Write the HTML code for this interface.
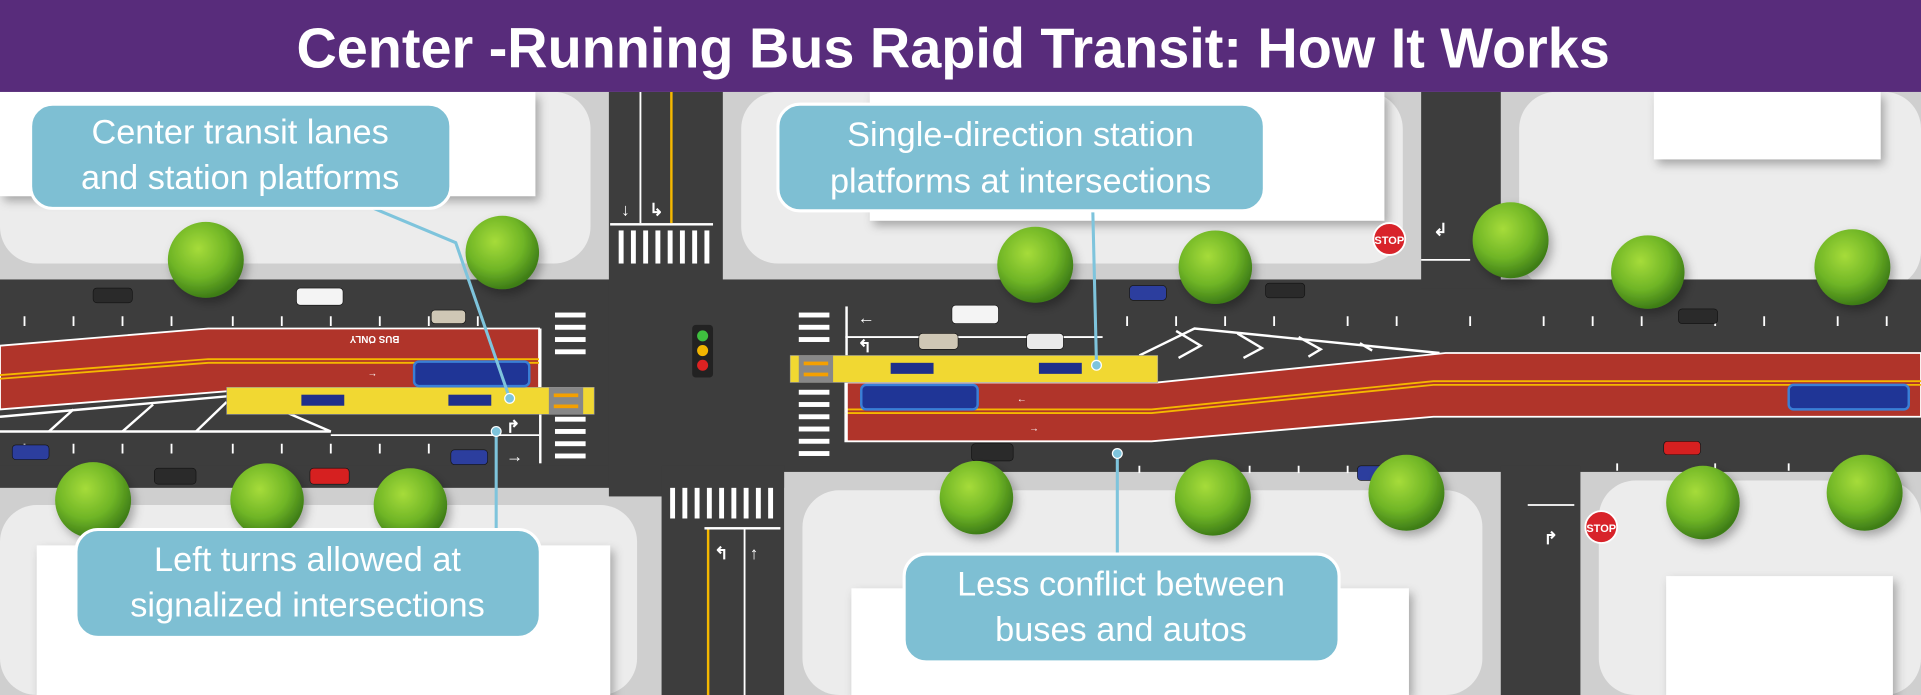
<!DOCTYPE html>
<html><head><meta charset="utf-8"><style>
html,body{margin:0;padding:0;background:#ddd;}
svg{display:block;}
text{font-family:"Liberation Sans",sans-serif;}
</style></head><body>
<svg width="1921" height="695" viewBox="0 0 1568 567" preserveAspectRatio="none" xmlns="http://www.w3.org/2000/svg">
<defs>
<filter id="sh" x="-20%" y="-20%" width="140%" height="140%"><feDropShadow dx="3" dy="4" stdDeviation="4" flood-color="#000" flood-opacity="0.3"/></filter>
<radialGradient id="tg" cx="40%" cy="35%" r="65%"><stop offset="0" stop-color="#a6dc3a"/><stop offset="0.6" stop-color="#6fb526"/><stop offset="1" stop-color="#3e7d17"/></radialGradient>
</defs>
<rect width="1568" height="567" fill="#cfcfcf"/>
<g fill="#ececec">
<rect x="0" y="75" width="482" height="140" rx="30"/>
<rect x="605" y="75" width="540" height="140" rx="30"/>
<rect x="1240" y="75" width="328" height="160" rx="30"/>
<rect x="0" y="412" width="520" height="155" rx="30"/>
<rect x="655" y="400" width="555" height="167" rx="30"/>
<rect x="1305" y="392" width="263" height="175" rx="30"/>
</g>
<g fill="#fff" filter="url(#sh)">
<rect x="0" y="75" width="437" height="85"/>
<rect x="710" y="75" width="420" height="105"/>
<rect x="1350" y="75" width="185" height="55"/>
<rect x="30" y="445" width="468" height="122"/>
<rect x="695" y="480" width="455" height="87"/>
<rect x="1360" y="470" width="185" height="97"/>
</g>
<g fill="#3d3d3d">
<rect x="0" y="228" width="1568" height="157"/>
<rect x="0" y="380" width="640" height="18"/>
<rect x="497" y="75" width="93" height="330"/>
<rect x="540" y="380" width="100" height="187"/>
<rect x="1160" y="75" width="65" height="160"/>
<rect x="1225" y="380" width="65" height="187"/>
</g>
<g stroke="#fff" stroke-width="1.5">
<path d="M20 258v8M60 258v8M100 258v8M140 258v8M190 258v8M230 258v8M270 258v8M310 258v8M350 258v8M390 258v8"/>
<path d="M20 362v8M60 362v8M100 362v8M140 362v8M190 362v8M230 362v8M270 362v8M310 362v8M350 362v8"/>
<path d="M920 258v8M960 258v8M1000 258v8M1040 258v8M1100 258v8M1140 258v8M1200 258v8M1260 258v8M1300 258v8M1340 258v8M1400 258v8M1440 258v8M1500 258v8M1540 258v8"/>
<path d="M930 380v6M980 380v6M1020 380v6M1060 380v6M1100 380v6M1160 380v6M1320 378v6M1400 378v6M1460 378v6M1520 378v6"/>
<path d="M270 355H440M690 275H900M1160 212H1200M1247 412H1285"/>
</g>
<g stroke="#fff" stroke-width="2" fill="none">
<path d="M0 340L200 322L270 352H0"/>
<path d="M40 352l20-18M100 352l25-22M160 352l25-24"/>
<path d="M930 290L975 268L1175 288"/>
<path d="M960 270l20 12-18 10M1010 272l20 12-15 8M1060 275l18 10-10 6M1110 280l10 6"/>
</g>
<polygon points="0,282 170,268 440,268 440,318 200,318 0,334" fill="#b0342a" stroke="#fff" stroke-width="1.5"/>
<polyline points="0,306 170,293 440,293" stroke="#f5b800" stroke-width="1.5" fill="none"/>
<polyline points="0,309 170,296 440,296" stroke="#f5b800" stroke-width="1.5" fill="none"/>
<polygon points="690,312 945,312 1180,288 1568,288 1568,340 1170,340 940,360 690,360" fill="#b0342a" stroke="#fff" stroke-width="1.5"/>
<polyline points="690,334 940,334 1170,311 1568,311" stroke="#f5b800" stroke-width="1.5" fill="none"/>
<polyline points="690,337 940,337 1170,314 1568,314" stroke="#f5b800" stroke-width="1.5" fill="none"/>
<g fill="#fff" font-size="8" font-weight="bold">
<text x="300" y="281">←</text><text x="300" y="307">→</text>
<text x="310" y="278" transform="rotate(180 318 276)">BUS ONLY</text>
<text x="830" y="328">←</text><text x="840" y="352">→</text>
</g>
<g fill="#fff">
<rect x="453" y="255" width="25" height="4"/><rect x="453" y="265" width="25" height="4"/><rect x="453" y="275" width="25" height="4"/><rect x="453" y="285" width="25" height="4"/><rect x="453" y="340" width="25" height="4"/><rect x="453" y="350" width="25" height="4"/><rect x="453" y="360" width="25" height="4"/><rect x="453" y="370" width="25" height="4"/>
<rect x="652" y="255" width="25" height="4"/><rect x="652" y="265" width="25" height="4"/><rect x="652" y="275" width="25" height="4"/><rect x="652" y="318" width="25" height="4"/><rect x="652" y="328" width="25" height="4"/><rect x="652" y="338" width="25" height="4"/><rect x="652" y="348" width="25" height="4"/><rect x="652" y="358" width="25" height="4"/><rect x="652" y="368" width="25" height="4"/>
<rect x="505" y="188" width="4" height="27"/><rect x="515" y="188" width="4" height="27"/><rect x="525" y="188" width="4" height="27"/><rect x="535" y="188" width="4" height="27"/><rect x="545" y="188" width="4" height="27"/><rect x="555" y="188" width="4" height="27"/><rect x="565" y="188" width="4" height="27"/><rect x="575" y="188" width="4" height="27"/>
<rect x="547" y="398" width="4" height="25"/><rect x="557" y="398" width="4" height="25"/><rect x="567" y="398" width="4" height="25"/><rect x="577" y="398" width="4" height="25"/><rect x="587" y="398" width="4" height="25"/><rect x="597" y="398" width="4" height="25"/><rect x="607" y="398" width="4" height="25"/><rect x="617" y="398" width="4" height="25"/><rect x="627" y="398" width="4" height="25"/>
<rect x="498" y="182" width="84" height="2"/><rect x="575" y="430" width="62" height="2"/>
<rect x="522" y="75" width="1.5" height="107"/><rect x="607" y="432" width="1.5" height="135"/>
<rect x="440" y="268" width="2" height="110"/><rect x="690" y="250" width="2" height="110"/>
</g>
<path d="M548 75V182M578 432V567" stroke="#f5b800" stroke-width="2"/>
<g fill="#fff" font-size="14" font-weight="bold">
<text x="507" y="176">↓</text><text x="530" y="176">↳</text>
<text x="583" y="456">↰</text><text x="612" y="456">↑</text>
<text x="413" y="353">↱</text><text x="413" y="377">→</text>
<text x="700" y="264">←</text><text x="700" y="287">↰</text>
<text x="1170" y="192">↲</text><text x="1260" y="444">↱</text>
</g>
<rect x="565" y="265" width="17" height="43" rx="3" fill="#222"/>
<circle cx="573.5" cy="274" r="4.5" fill="#3fbf3f"/><circle cx="573.5" cy="286" r="4.5" fill="#f2b500"/><circle cx="573.5" cy="298" r="4.5" fill="#d22"/>
<rect x="185" y="316" width="300" height="22" fill="#f1d832" stroke="#999" stroke-width="0.5"/>
<rect x="448" y="316" width="28" height="22" fill="#888"/><rect x="452" y="321" width="20" height="3" fill="#f5a000"/><rect x="452" y="330" width="20" height="3" fill="#f5a000"/>
<rect x="246" y="322" width="35" height="9" fill="#1f2f8a"/><rect x="366" y="322" width="35" height="9" fill="#1f2f8a"/>
<rect x="645" y="290" width="300" height="22" fill="#f1d832" stroke="#999" stroke-width="0.5"/>
<rect x="652" y="290" width="28" height="22" fill="#888"/><rect x="656" y="295" width="20" height="3" fill="#f5a000"/><rect x="656" y="304" width="20" height="3" fill="#f5a000"/>
<rect x="727" y="296" width="35" height="9" fill="#1f2f8a"/><rect x="848" y="296" width="35" height="9" fill="#1f2f8a"/>
<g fill="#1f3596" stroke="#3a7fd6" stroke-width="2">
<rect x="338" y="295" width="94" height="20" rx="4"/>
<rect x="703" y="314" width="95" height="20" rx="4"/>
<rect x="1460" y="314" width="98" height="20" rx="4"/>
</g>
<g stroke="#111" stroke-width="0.5">
<rect x="76" y="235" width="32" height="12" rx="3" fill="#2a2a2a"/>
<rect x="242" y="235" width="38" height="14" rx="3" fill="#f4f4f4"/>
<rect x="352" y="253" width="28" height="11" rx="3" fill="#cfc7b5"/>
<rect x="10" y="363" width="30" height="12" rx="3" fill="#2c3e9e"/>
<rect x="126" y="382" width="34" height="13" rx="3" fill="#2a2a2a"/>
<rect x="253" y="382" width="32" height="13" rx="3" fill="#d62020"/>
<rect x="368" y="367" width="30" height="12" rx="3" fill="#2c3e9e"/>
<rect x="777" y="249" width="38" height="15" rx="3" fill="#f4f4f4"/>
<rect x="750" y="272" width="32" height="13" rx="3" fill="#cfc7b5"/>
<rect x="838" y="272" width="30" height="13" rx="3" fill="#eaeaea"/>
<rect x="922" y="233" width="30" height="12" rx="3" fill="#2c3e9e"/>
<rect x="1033" y="231" width="32" height="12" rx="3" fill="#2a2a2a"/>
<rect x="1370" y="252" width="32" height="12" rx="3" fill="#2a2a2a"/>
<rect x="793" y="362" width="34" height="14" rx="3" fill="#2a2a2a"/>
<rect x="1108" y="380" width="22" height="12" rx="3" fill="#2c3e9e"/>
<rect x="1358" y="360" width="30" height="11" rx="3" fill="#d62020"/>
</g>
<circle cx="1134" cy="195" r="13" fill="#d8232a" stroke="#fff" stroke-width="1.5"/><text x="1134" y="199" font-size="9" fill="#fff" text-anchor="middle" font-weight="bold">STOP</text>
<circle cx="1307" cy="430" r="13" fill="#d8232a" stroke="#fff" stroke-width="1.5"/><text x="1307" y="434" font-size="9" fill="#fff" text-anchor="middle" font-weight="bold">STOP</text>
<g fill="url(#tg)" filter="url(#sh)">
<circle cx="168" cy="212" r="31"/><circle cx="410" cy="206" r="30"/><circle cx="845" cy="216" r="31"/><circle cx="992" cy="218" r="30"/><circle cx="1233" cy="196" r="31"/><circle cx="1345" cy="222" r="30"/><circle cx="1512" cy="218" r="31"/>
<circle cx="76" cy="408" r="31"/><circle cx="218" cy="408" r="30"/><circle cx="335" cy="412" r="30"/><circle cx="797" cy="406" r="30"/><circle cx="990" cy="406" r="31"/><circle cx="1148" cy="402" r="31"/><circle cx="1390" cy="410" r="30"/><circle cx="1522" cy="402" r="31"/>
</g>
<g stroke="#7ec4dc" stroke-width="2.5" fill="none">
<polyline points="305,170 372,198 416,325"/>
<line x1="892" y1="172" x2="895" y2="298"/>
<line x1="405" y1="352" x2="405" y2="432"/>
<line x1="912" y1="370" x2="912" y2="452"/>
</g>
<g fill="#7ec4dc" stroke="#fff" stroke-width="1"><circle cx="416" cy="325" r="4"/><circle cx="895" cy="298" r="4"/><circle cx="405" cy="352" r="4"/><circle cx="912" cy="370" r="4"/></g>
<g fill="#7ebfd3" stroke="#fff" stroke-width="2.5">
<rect x="25" y="85" width="343" height="85" rx="18"/>
<rect x="635" y="85" width="397" height="87" rx="18"/>
<rect x="62" y="432" width="379" height="88" rx="18"/>
<rect x="738" y="452" width="355" height="88" rx="18"/>
</g>
<g fill="#fff" font-size="28" text-anchor="middle">
<text x="196" y="117">Center transit lanes</text>
<text x="196" y="154">and station platforms</text>
<text x="833" y="119">Single-direction station</text>
<text x="833" y="157">platforms at intersections</text>
<text x="251" y="466">Left turns allowed at</text>
<text x="251" y="503">signalized intersections</text>
<text x="915" y="486">Less conflict between</text>
<text x="915" y="523">buses and autos</text>
</g>
<rect x="0" y="0" width="1568" height="75" fill="#582c7b"/>
<text x="242" y="55" font-size="46" font-weight="bold" fill="#fff" textLength="1072" lengthAdjust="spacingAndGlyphs">Center -Running Bus Rapid Transit: How It Works</text>
</svg>
</body></html>
